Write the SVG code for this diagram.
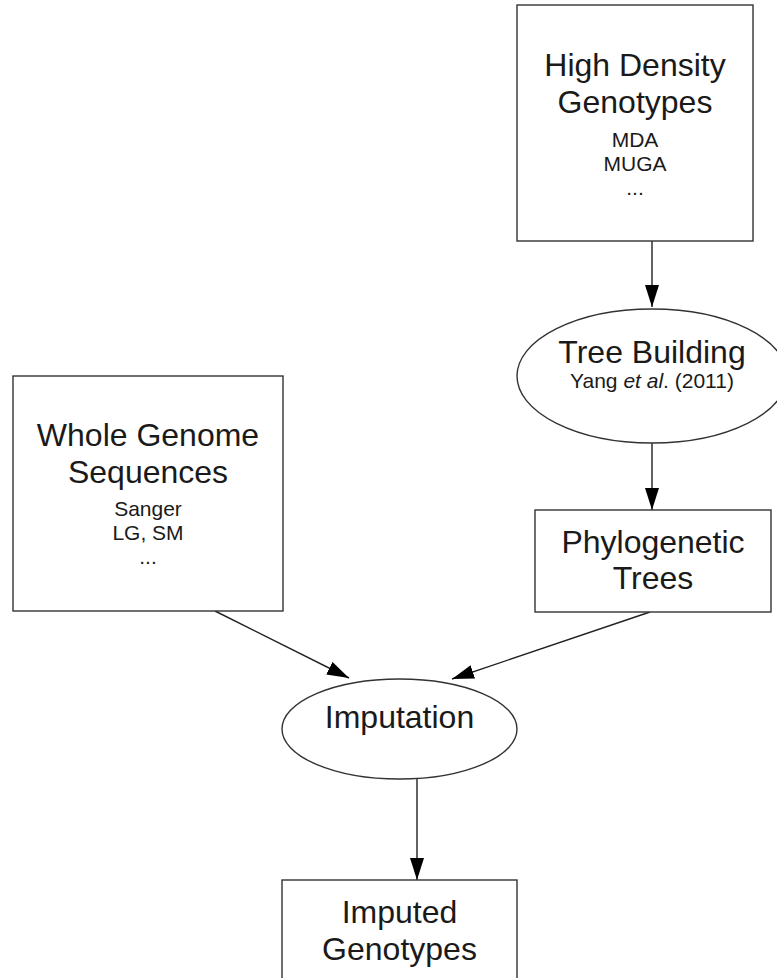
<svg xmlns="http://www.w3.org/2000/svg" width="777" height="978" viewBox="0 0 777 978">
<style>
.shape{fill:#fff;stroke:#333;stroke-width:1.4}
.edge{fill:none;stroke:#222;stroke-width:1.4}
text{font-family:"Liberation Sans",Arial,sans-serif;fill:#1a1a1a;text-anchor:middle}
.big{font-size:32px}
.small{font-size:21px}
</style>
<defs>
<marker id="arrow" markerUnits="userSpaceOnUse" markerWidth="23" markerHeight="15" refX="22" refY="7" orient="auto">
<path d="M0,0 L22,7 L0,14 z" fill="#000"/>
</marker>
</defs>
<rect width="777" height="978" fill="#fff"/>
<g id="connectors">
<line class="edge" x1="652" y1="241" x2="652" y2="307" marker-end="url(#arrow)"/>
<line class="edge" x1="652" y1="443" x2="652" y2="510" marker-end="url(#arrow)"/>
<line class="edge" x1="215" y1="611" x2="349" y2="678" marker-end="url(#arrow)"/>
<line class="edge" x1="650" y1="612" x2="452" y2="679" marker-end="url(#arrow)"/>
<line class="edge" x1="417" y1="779" x2="417" y2="880" marker-end="url(#arrow)"/>
</g>
<g id="high-density">
<rect class="shape" x="517" y="5" width="236" height="236"/>
<text class="big" x="635" y="76">High Density</text>
<text class="big" x="635" y="113">Genotypes</text>
<text class="small" x="635" y="147">MDA</text>
<text class="small" x="635" y="171">MUGA</text>
<text class="small" x="635" y="195">...</text>
</g>
<g id="tree-building">
<ellipse class="shape" cx="652" cy="376" rx="135" ry="67"/>
<text class="big" x="652" y="363">Tree Building</text>
<text class="small" x="652" y="388">Yang <tspan font-style="italic">et al</tspan>. (2011)</text>
</g>
<g id="phylogenetic">
<rect class="shape" x="535" y="510" width="236" height="102"/>
<text class="big" x="653" y="553">Phylogenetic</text>
<text class="big" x="653" y="589">Trees</text>
</g>
<g id="whole-genome">
<rect class="shape" x="13" y="376" width="270" height="235"/>
<text class="big" x="148" y="446">Whole Genome</text>
<text class="big" x="148" y="483">Sequences</text>
<text class="small" x="148" y="516">Sanger</text>
<text class="small" x="148" y="540">LG, SM</text>
<text class="small" x="148" y="564">...</text>
</g>
<g id="imputation">
<ellipse class="shape" cx="399.5" cy="729" rx="117.5" ry="50"/>
<text class="big" x="399.5" y="728">Imputation</text>
</g>
<g id="imputed">
<rect class="shape" x="282" y="880" width="235" height="110"/>
<text class="big" x="399.5" y="923">Imputed</text>
<text class="big" x="399.5" y="960">Genotypes</text>
</g>
</svg>
